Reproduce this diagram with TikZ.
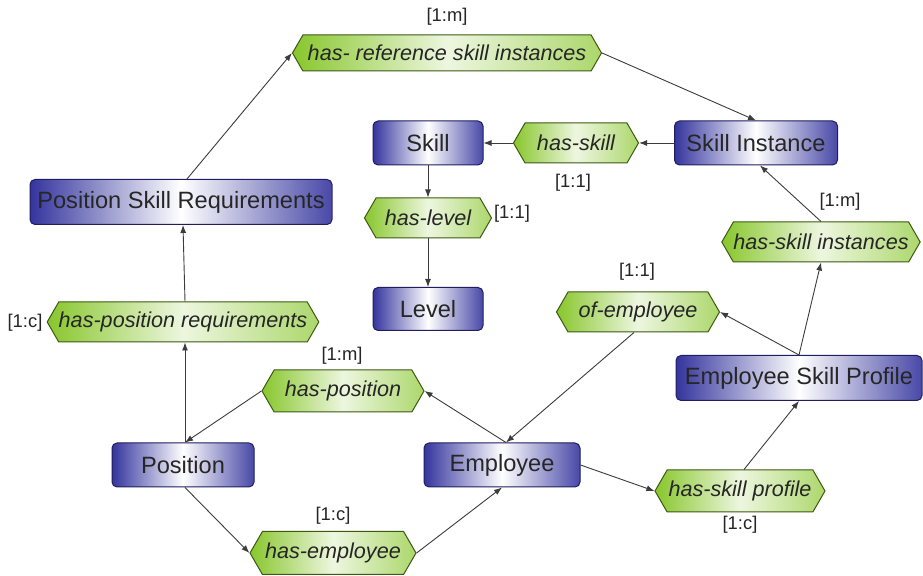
\documentclass[tikz,border=0pt]{standalone}
\usepackage{fontspec}
\setmainfont{Liberation Sans}
\usetikzlibrary{shapes.symbols,arrows.meta}
\definecolor{boxblue}{RGB}{52,52,158}
\definecolor{hexgreen}{RGB}{136,198,44}
\definecolor{edgegray}{RGB}{60,60,60}
\begin{document}
\begin{tikzpicture}[x=0.5pt,y=-0.5pt,
  sz/.style 2 args={minimum width=#1*0.5pt,minimum height=#2*0.5pt},
  ent/.style={draw=boxblue!60!black,line width=0.5pt,rounded corners=2.5pt,inner sep=0pt,
    left color=boxblue,right color=boxblue!90,middle color=white,
    font=\fontsize{11.8}{14}\selectfont,text=black!85},
  rel/.style={draw=hexgreen!45!black,line width=0.5pt,inner sep=0pt,
    shape=signal,signal to=west and east,signal pointer angle=120,
    left color=hexgreen,right color=hexgreen!70,middle color=hexgreen!15,
    font=\fontsize{10.8}{13}\selectfont\itshape,text=black!85},
  card/.style={inner sep=0pt,font=\fontsize{9.2}{11}\selectfont,text=black!85},
  arr/.style={draw=edgegray,line width=0.45pt,-{Latex[length=4pt,width=3pt]}}
]
\useasboundingbox (0,0) rectangle (923,576);
\fill[white] (0,0) rectangle (923,576);

% entities
\node[ent,sz={110}{44}] (skill) at (428,143) {Skill};
\node[ent,sz={163}{44}] (skillinst) at (756,143) {Skill Instance};
\node[ent,sz={302}{45}] (psr) at (181,202) {Position Skill Requirements};
\node[ent,sz={110}{43}] (level) at (428,309) {Level};
\node[ent,sz={246}{45}] (esp) at (799,378) {Employee Skill Profile};
\node[ent,sz={142}{44}] (position) at (183,465) {Position};
\node[ent,sz={156}{44}] (employee) at (502,465) {Employee};

% relationships
\node[rel,sz={309}{36}] (hasref) at (447,53) {has- reference skill instances};
\node[rel,sz={125}{40}] (hasskill) at (576,143) {has-skill};
\node[rel,sz={127}{40}] (haslevel) at (428,218) {has-level};
\node[rel,sz={188}{40}] (hasskillinst) at (821,242) {has-skill instances};
\node[rel,sz={163}{40}] (ofemp) at (638,312) {of-employee};
\node[rel,sz={267}{40}] (hasposreq) at (183,322) {has-position requirements};
\node[rel,sz={162}{42}] (haspos) at (343,391) {has-position};
\node[rel,sz={170}{42}] (hasskillprof) at (740,491) {has-skill profile};
\node[rel,sz={166}{43}] (hasemp) at (333,553) {has-employee};

% cardinalities
\node[card] (lref) at (447,17) {[1:m]};
\node[card] (lhasskill) at (573,183) {[1:1]};
\node[card] (lhaslevel) at (512,214) {[1:1]};
\node[card] (lhasskillinst) at (840,202) {[1:m]};
\node[card] (lofemp) at (637,272) {[1:1]};
\node[card] (lhasposreq) at (25,323) {[1:c]};
\node[card] (lhaspos) at (342,356) {[1:m]};
\node[card] (lhasskillprof) at (740,525) {[1:c]};
\node[card] (lhasemp) at (333,516) {[1:c]};

% connectors
\draw[arr] ([xshift=3pt]psr.north) -- (hasref.west);
\draw[arr] (hasref.east) -- (skillinst.north);
\draw[arr] (skillinst.west) -- (hasskill.east);
\draw[arr] (hasskill.west) -- (skill.east);
\draw[arr] (skill.south) -- (haslevel.north);
\draw[arr] (haslevel.south) -- (level.north);
\draw[arr] (esp.north) -- (hasskillinst.south);
\draw[arr] (hasskillinst.north) -- ([xshift=2pt]skillinst.south);
\draw[arr] (esp.north) -- (ofemp.east);
\draw[arr] ([xshift=-2pt]ofemp.south) -- ([xshift=2pt]employee.north);
\draw[arr] ([xshift=2pt]employee.north) -- (haspos.east);
\draw[arr] (haspos.west) -- ([xshift=1pt]position.north);
\draw[arr] ([xshift=1pt]position.north) -- ([xshift=1pt]hasposreq.south);
\draw[arr] ([xshift=1pt]hasposreq.north) -- ([xshift=1pt]psr.south);
\draw[arr] ([xshift=1pt]position.south) -- (hasemp.west);
\draw[arr] (hasemp.east) -- (employee.south);
\draw[arr] (employee.east) -- (hasskillprof.west);
\draw[arr] ([xshift=2pt]hasskillprof.north) -- (esp.south);
\end{tikzpicture}
\end{document}
